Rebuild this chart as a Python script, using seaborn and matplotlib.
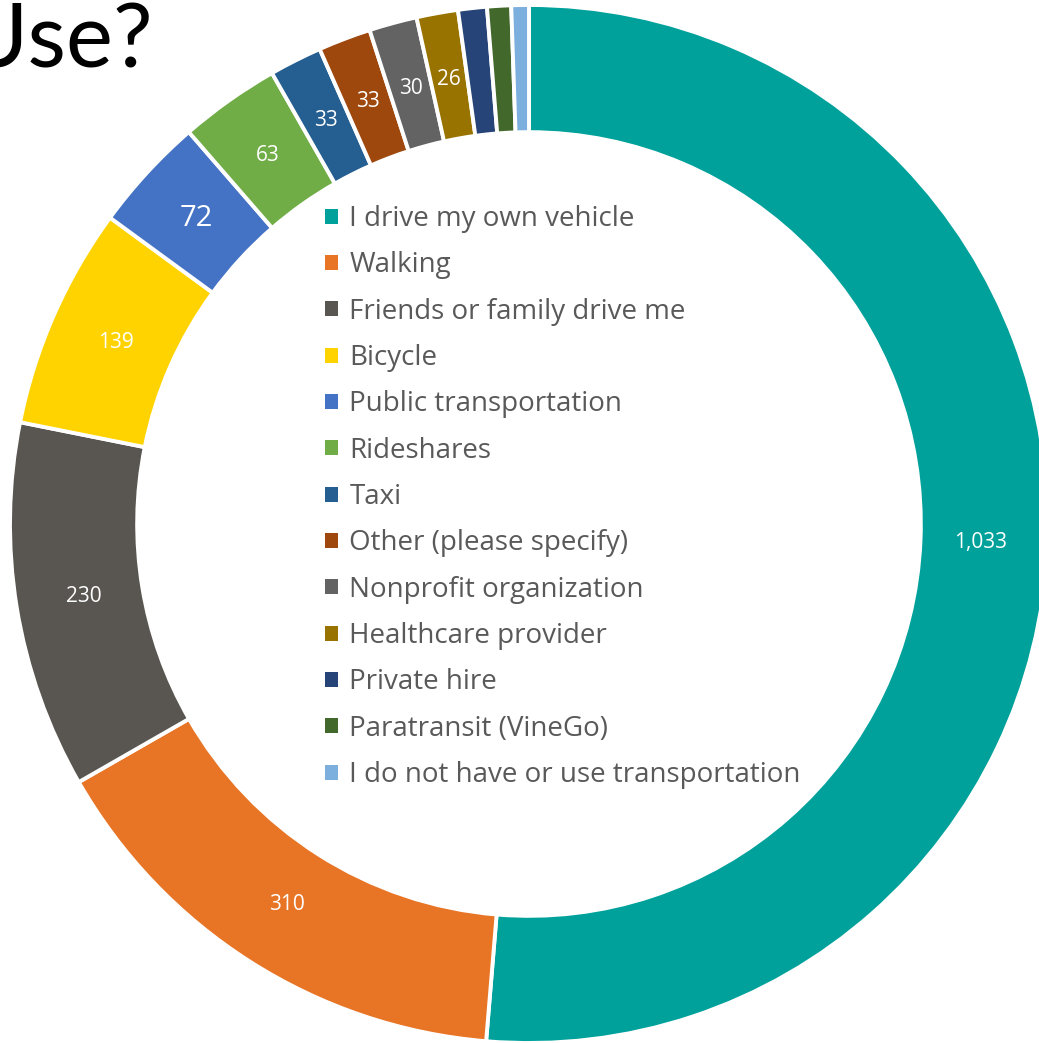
import numpy as np
import matplotlib
matplotlib.use('Agg')
import matplotlib.pyplot as plt
import seaborn as sns

# data
modes = ['I drive my own vehicle', 'Walking', 'Friends or family drive me', 'Bicycle',
         'Public transportation', 'Rideshares', 'Taxi', 'Other (please specify)',
         'Nonprofit organization', 'Healthcare provider', 'Private hire',
         'Paratransit (VineGo)', 'I do not have or use transportation']
counts = [1033, 310, 230, 139, 72, 63, 33, 33, 30, 26, 18, 15, 11]
shown = ['1,033', '310', '230', '139', '72', '63', '33', '33', '30', '26', '', '', '']
colors = ['#00A19B', '#E87425', '#595550', '#FFD300', '#4472C4', '#70AD47', '#255E91',
          '#9E480E', '#636363', '#997300', '#264478', '#43682B', '#7CAFDD']

sns.set_theme(style='white')
plt.rcParams['font.family'] = ['Open Sans', 'DejaVu Sans']

W, H = 1039, 1043
fig = plt.figure(figsize=(W / 100, H / 100), dpi=100)
ax = fig.add_axes([0, 0, 1, 1])

# centre and radius of the ring in pixels
cx, cy, R = 529, 524, 519
inner = 0.755

wedges, _ = ax.pie(counts, colors=colors, startangle=90, counterclock=False,
                   radius=1, wedgeprops=dict(width=1 - inner, edgecolor='white', linewidth=2.8))

# white value labels in the middle of the ring
rl = 0.87
for w, lab in zip(wedges, shown):
    if not lab:
        continue
    ang = np.deg2rad((w.theta1 + w.theta2) / 2)
    size = 21 if lab == '72' else 15
    ax.text(rl * np.cos(ang), rl * np.sin(ang), lab, color='white', fontsize=size,
            ha='center', va='center')

ax.set_aspect('auto')
ax.set_xlim(-cx / R, (W - cx) / R)
ax.set_ylim(-(H - cy) / R, cy / R)
ax.axis('off')

leg = ax.legend(wedges, modes, loc='upper left', bbox_to_anchor=(325 / W, 1 - 205 / H),
                bbox_transform=fig.transFigure, frameon=False, fontsize=20,
                handlelength=0.45, handleheight=0.45, handletextpad=0.43,
                labelspacing=0.66, borderpad=0, borderaxespad=0)
for t in leg.get_texts():
    t.set_color('#595959')
for h in leg.legend_handles:
    h.set_edgecolor('none')

fig.text(153 / W, 1 - 68 / H, 'Use?', ha='right', va='baseline', fontsize=64,
         color='black', family=['Lato', 'DejaVu Sans'])

fig.savefig('out.png', dpi=100)
